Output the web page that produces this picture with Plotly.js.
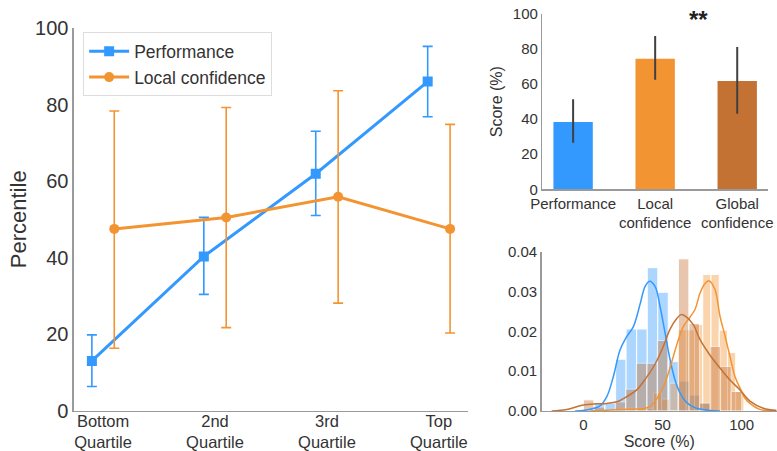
<!DOCTYPE html>
<html>
<head>
<meta charset="utf-8">
<script src="https://cdn.plot.ly/plotly-3.0.1.min.js"></script>
<style>html,body{margin:0;padding:0;background:#fff;}#chart{width:777px;height:451px;}</style>
</head>
<body>
<div id="chart"></div>
<script>
// ---- Left panel: percentile by quartile ----
const quartiles = ["Bottom<br>Quartile", "2nd<br>Quartile", "3rd<br>Quartile", "Top<br>Quartile"];
const perfMean = [13.0, 40.3, 61.9, 86.0];
const perfHigh = [19.8, 50.5, 73.0, 95.2];
const perfLow  = [6.3, 30.4, 51.0, 76.8];
const confMean = [47.5, 50.5, 55.9, 47.5];
const confHigh = [78.3, 79.2, 83.6, 74.8];
const confLow  = [16.3, 21.7, 28.1, 20.3];

// ---- Top right: bar chart ----
const barCats = ["Performance", "Local<br>confidence", "Global<br>confidence"];
const barVals = [38.4, 74.5, 61.8];
const barHigh = [51.3, 87.5, 81.2];
const barLow  = [26.6, 62.5, 43.1];

// ---- Bottom right: histograms (density) ----
const perfBinCenters = [10.3, 17.0, 23.7, 30.3, 37.0, 43.7, 50.3, 57.0, 63.7, 70.3, 77.0];
const perfBinHeights = [0.002, 0.002, 0.013, 0.0206, 0.0206, 0.036, 0.0298, 0.0124, 0.0075, 0.004, 0.002];
const perfBinWidth = 6.67;
const localBinCenters = [26.0, 31.2, 36.4, 41.6, 46.8, 52.0, 57.2, 62.4, 67.6, 72.8, 78.0, 83.2, 88.4, 93.6, 98.8];
const localBinHeights = [0.0007, 0.0007, 0.0007, 0.0007, 0.0045, 0.003, 0.007, 0.0204, 0.0204, 0.0217, 0.0343, 0.0343, 0.0203, 0.0147, 0.0049];
const localBinWidth = 5.2;
const globalBinCenters = [3.33, 10.0, 16.67, 23.33, 30.0, 36.67, 43.33, 50.0, 56.67, 63.33, 70.0, 76.67, 83.33, 90.0, 96.67];
const globalBinHeights = [0.0028, 0.001, 0, 0.0023, 0.0055, 0.012, 0.012, 0.0177, 0, 0.0382, 0.022, 0.002, 0.0162, 0.0112, 0.0049];
const globalBinWidth = 6.667;

// KDE curves
const perfKdeX = [-5.2, 1.1, 10.5, 14.8, 18.9, 23.2, 27.4, 31.6, 35.8, 39.0, 41.8, 45.3, 48.4, 51.6, 54.8, 57.9, 61.1, 65.3, 70.5, 73.7, 80.0, 86.3];
const perfKdeY = [0, 0.0002, 0.0013, 0.0036, 0.0086, 0.0154, 0.0187, 0.0212, 0.0268, 0.0313, 0.0326, 0.0313, 0.0263, 0.0196, 0.0128, 0.0078, 0.0045, 0.0021, 0.0008, 0.0005, 0.0001, 0];
const localKdeX = [4.2, 13.7, 23.2, 32.6, 39.0, 42.1, 47.3, 50.5, 53.7, 56.8, 60.0, 63.1, 67.4, 70.5, 73.6, 76.8, 79.3, 83.1, 86.3, 89.5, 92.6, 95.8, 98.9, 102.1, 105.2, 111.5, 121.7];
const localKdeY = [0, 0.0002, 0.0004, 0.0005, 0.0007, 0.0011, 0.0036, 0.0061, 0.0095, 0.0137, 0.0179, 0.0212, 0.0236, 0.0255, 0.0295, 0.032, 0.0327, 0.0305, 0.0238, 0.0188, 0.0137, 0.0086, 0.0058, 0.0032, 0.0019, 0.0004, 0.0001];
const globalKdeX = [-20.0, -10.5, 0.0, 8.5, 14.8, 21.1, 27.4, 33.7, 40.0, 45.3, 50.5, 54.7, 59.0, 61.7, 64.8, 69.4, 73.7, 80.0, 86.3, 92.6, 98.9, 105.2, 113.6, 122.1];
const globalKdeY = [0, 0.0004, 0.0015, 0.0018, 0.0019, 0.0023, 0.0036, 0.0053, 0.0085, 0.0118, 0.0162, 0.0205, 0.0232, 0.0242, 0.0237, 0.0217, 0.0179, 0.014, 0.0108, 0.0078, 0.0053, 0.0025, 0.0007, 0.0001];

const BLUE = "#3399ff", ORANGE = "#f39433", BROWN = "#c47234";
const TXT = "#333333", AXC = "#9a9a9a";
const FONT = "Liberation Sans, Arial, sans-serif";

const idx = quartiles.map((_, i) => i);
const dodge = 0.1;

const traces = [
  {
    type: "scatter", mode: "lines+markers", name: "Performance",
    x: idx.map(i => i - dodge), y: perfMean,
    line: {color: BLUE, width: 3}, marker: {symbol: "square", size: 10, color: BLUE},
    error_y: {type: "data", symmetric: false,
      array: perfHigh.map((v, i) => v - perfMean[i]),
      arrayminus: perfMean.map((v, i) => v - perfLow[i]),
      color: BLUE, thickness: 1.6, width: 5},
    xaxis: "x", yaxis: "y"
  },
  {
    type: "scatter", mode: "lines+markers", name: "Local confidence",
    x: idx.map(i => i + dodge), y: confMean,
    line: {color: ORANGE, width: 3}, marker: {symbol: "circle", size: 10, color: ORANGE},
    error_y: {type: "data", symmetric: false,
      array: confHigh.map((v, i) => v - confMean[i]),
      arrayminus: confMean.map((v, i) => v - confLow[i]),
      color: ORANGE, thickness: 1.6, width: 5},
    xaxis: "x", yaxis: "y"
  },
  {
    type: "bar", x: barCats.map((_, i) => i), y: barVals, showlegend: false,
    marker: {color: [BLUE, ORANGE, BROWN], line: {width: 0}}, width: 0.48,
    error_y: {type: "data", symmetric: false,
      array: barHigh.map((v, i) => v - barVals[i]),
      arrayminus: barVals.map((v, i) => v - barLow[i]),
      color: "#404040", thickness: 2, width: 0},
    xaxis: "x2", yaxis: "y2"
  },
  {
    type: "bar", x: perfBinCenters, y: perfBinHeights, width: perfBinWidth, showlegend: false,
    marker: {color: BLUE, line: {color: "#ffffff", width: 1}}, opacity: 0.4,
    xaxis: "x3", yaxis: "y3"
  },
  {
    type: "scatter", mode: "lines", x: perfKdeX, y: perfKdeY, showlegend: false,
    line: {color: BLUE, width: 1.5, shape: "spline"}, xaxis: "x3", yaxis: "y3"
  },
  {
    type: "bar", x: localBinCenters, y: localBinHeights, width: localBinWidth, showlegend: false,
    marker: {color: ORANGE, line: {color: "#ffffff", width: 1}}, opacity: 0.4,
    xaxis: "x3", yaxis: "y3"
  },
  {
    type: "scatter", mode: "lines", x: localKdeX, y: localKdeY, showlegend: false,
    line: {color: ORANGE, width: 1.5, shape: "spline"}, xaxis: "x3", yaxis: "y3"
  },
  {
    type: "bar", x: globalBinCenters, y: globalBinHeights, width: globalBinWidth, showlegend: false,
    marker: {color: BROWN, line: {color: "#ffffff", width: 1}}, opacity: 0.4,
    xaxis: "x3", yaxis: "y3"
  },
  {
    type: "scatter", mode: "lines", x: globalKdeX, y: globalKdeY, showlegend: false,
    line: {color: BROWN, width: 1.5, shape: "spline"}, xaxis: "x3", yaxis: "y3"
  }
];

const axBase = {showgrid: false, zeroline: false, ticks: "", showline: true, linecolor: AXC, linewidth: 1.5,
  tickfont: {family: FONT, color: TXT}};

const layout = {
  width: 777, height: 451,
  margin: {l: 0, r: 0, t: 0, b: 0},
  paper_bgcolor: "#ffffff", plot_bgcolor: "#ffffff",
  font: {family: FONT, color: TXT},
  barmode: "overlay",
  showlegend: true,
  legend: {x: 0.107, y: 0.928, xanchor: "left", yanchor: "top",
    bgcolor: "#ffffff", bordercolor: "#dddddd", borderwidth: 1, itemwidth: 40,
    font: {family: FONT, size: 17.5, color: TXT}, tracegroupgap: 4},
  xaxis: Object.assign({}, axBase, {domain: [0.0952, 0.6023], range: [-0.26, 3.26],
    tickvals: idx, ticktext: quartiles, tickfont: {family: FONT, size: 16.5, color: TXT}, ticklabelstandoff: -5}),
  yaxis: Object.assign({}, axBase, {domain: [0.0894, 0.938], range: [0, 100],
    tickvals: [0, 20, 40, 60, 80, 100], tickfont: {family: FONT, size: 20, color: TXT}}),
  xaxis2: Object.assign({}, axBase, {domain: [0.698, 0.9884], range: [-0.375, 2.375], anchor: "y2",
    tickvals: [0, 1, 2], ticktext: barCats, tickfont: {family: FONT, size: 15, color: TXT}}),
  yaxis2: Object.assign({}, axBase, {domain: [0.5803, 0.969], range: [0, 100], anchor: "x2",
    tickvals: [0, 20, 40, 60, 80, 100], tickfont: {family: FONT, size: 15, color: TXT},
    title: {text: "Score (%)", font: {family: FONT, size: 16, color: TXT}, standoff: 6}}),
  xaxis3: Object.assign({}, axBase, {domain: [0.6972, 0.9996], range: [-26.3, 122.1], anchor: "y3",
    tickvals: [0, 50, 100], tickfont: {family: FONT, size: 15, color: TXT},
    title: {text: "Score (%)", font: {family: FONT, size: 16, color: TXT}, standoff: 0}}),
  yaxis3: Object.assign({}, axBase, {domain: [0.0887, 0.4419], range: [0, 0.04], anchor: "x3",
    tickvals: [0, 0.01, 0.02, 0.03, 0.04], tickformat: ".2f", tickfont: {family: FONT, size: 15, color: TXT}}),
  annotations: [
    {text: "<b>**</b>", xref: "x2", yref: "y2", x: 1.53, y: 97, showarrow: false,
      font: {family: FONT, size: 24, color: "#222"}, xanchor: "center", yanchor: "middle"},
    {text: "Percentile", xref: "paper", yref: "paper", x: 0.0232, y: 0.514, textangle: -90, showarrow: false,
      font: {family: FONT, size: 22, color: TXT}, xanchor: "center", yanchor: "middle"}
  ]
};

Plotly.newPlot("chart", traces, layout, {displayModeBar: false, staticPlot: true});
</script>
</body>
</html>
